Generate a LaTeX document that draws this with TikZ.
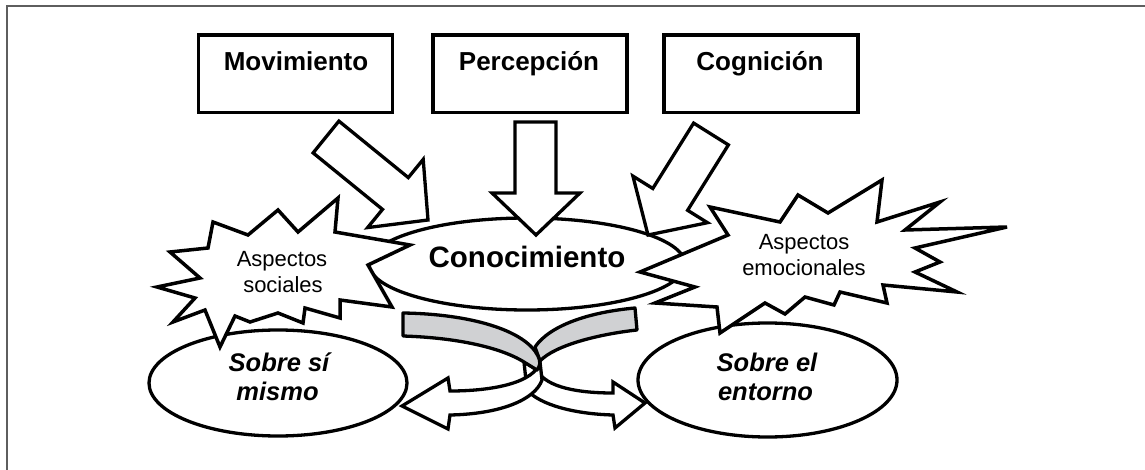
\documentclass[tikz,border=0pt]{standalone}
\usepackage{fontspec}
\setmainfont{Liberation Sans}
\usetikzlibrary{shapes.geometric}
\definecolor{ribgray}{HTML}{D0D1D3}
\definecolor{framegray}{HTML}{5E5E5E}
\begin{document}
\begin{tikzpicture}[x=1pt,y=-1pt,
  boxst/.style={draw=black, line width=3.6pt, fill=white, inner sep=0pt, minimum width=194, minimum height=77.5},
  boxtxt/.style={font=\fontsize{26}{30}\selectfont\bfseries, inner sep=0pt, anchor=base},
  ellst/.style={ellipse, draw=black, line width=3.3pt, fill=white, inner sep=0pt},
  blockarrow/.style={draw=black, line width=3.3pt, fill=white, line join=miter},
  burst/.style={draw=black, line width=3.5pt, fill=white, line join=miter, miter limit=6},
  ribbonw/.style={draw=black, line width=3.3pt, fill=white, line join=miter},
  ribbong/.style={draw=black, line width=3.3pt, fill=ribgray, line join=round},
  bursttxt/.style={font=\fontsize{22}{26}\selectfont, inner sep=0pt, anchor=base},
  sobretxt/.style={font=\fontsize{25.5}{29}\selectfont\bfseries\itshape, inner sep=0pt, anchor=base}
]
\useasboundingbox (0,0) rectangle (1145,470);
\fill[white] (0,0) rectangle (1145,470);
% frame
\draw[framegray, line width=2pt] (7,470) -- (7,6) -- (1145,6);

% top boxes
\node[boxst] (movbox) at (295.5,73.75) {};
\node[boxst] (perbox) at (530,73.75) {};
\node[boxst] (cogbox) at (761,73.75) {};
\node[boxtxt] (movtxt) at (296,71) {Movimiento};
\node[boxtxt] (pertxt) at (529,71) {Percepción};
\node[boxtxt] (cogtxt) at (760,71) {Cognición};

% bottom ellipses
\node[ellst, minimum width=258, minimum height=106] (self) at (278,383) {};
\node[ellst, minimum width=259, minimum height=114] (env) at (767.5,380) {};

% central ellipse
\node[ellst, minimum width=316, minimum height=92] (con) at (527,264) {};

% ribbons (twisted arrows)
\draw[ribbonw] (537,370) .. controls (546,388) and (580,393) .. (613,393)
  -- (613,382) -- (645,403) -- (615,428) -- (613,415)
  .. controls (575,414) and (540,405) .. (527,390) -- (524,362) -- cycle;
\draw[ribbonw] (540,362) .. controls (535,382) and (495,391) .. (450,391)
  -- (448,378) -- (402,406) -- (448,429) -- (450,415)
  .. controls (500,414) and (535,400) .. (542,380) -- cycle;
\draw[ribbong] (635,308) .. controls (590,312) and (550,325) .. (535,347)
  -- (540,361) .. controls (555,345) and (600,334) .. (637,330) -- cycle;
\draw[ribbong] (403,313) .. controls (470,314) and (525,330) .. (538,356)
  .. controls (541,362) and (540,366) .. (537,370)
  -- (524,362) .. controls (505,350) and (465,338) .. (403,336) -- cycle;

% left starburst
\draw[burst] (157,287) -- (200,278) -- (170,252) -- (208,248) -- (213,222)
  -- (248,235) -- (278,210) -- (298,232) -- (338,198) -- (335,232)
  -- (410,245) -- (368,265) -- (392,307) -- (340,300) -- (340,318)
  -- (305,308) -- (303,323) -- (278,313) -- (250,322) -- (235,316)
  -- (220,347) -- (205,310) -- (173,322) -- (195,298) -- cycle;

% right starburst
\draw[burst] (710,207) -- (728,235) -- (640,272) -- (695,287) -- (655,303)
  -- (717,307) -- (720,333) -- (765,303) -- (785,314) -- (805,297)
  -- (834,305) -- (840,292) -- (887,303) -- (883,285) -- (957,292)
  -- (915,272) -- (940,262) -- (915,248) -- (1007,227) -- (905,230)
  -- (940,202) -- (877,222) -- (882,180) -- (828,213) -- (798,195)
  -- (780,222) -- cycle;

% block arrows
\draw[blockarrow] (313.1,152.9) -- (382.5,209.4) -- (367.6,227.6) -- (428,220)
  -- (423.2,159.4) -- (408.3,177.6) -- (338.9,121.1) -- cycle;
\draw[blockarrow] (515,122) -- (556,122) -- (556,193) -- (580,193) -- (536,235)
  -- (492,193) -- (515,193) -- cycle;
\draw[blockarrow] (728.4,144.9) -- (687.6,210.3) -- (707.5,222.7) -- (648,235)
  -- (632.9,176.1) -- (652.8,188.5) -- (693.6,123.1) -- cycle;

% texts
\node[font=\fontsize{29.5}{34}\selectfont\bfseries, inner sep=0pt, anchor=base] (contxt) at (527,267) {Conocimiento};
\node[bursttxt] (soc1) at (282,266) {Aspectos};
\node[bursttxt] (soc2) at (283,292) {sociales};
\node[bursttxt] (emo1) at (804,250) {Aspectos};
\node[bursttxt] (emo2) at (804,276) {emocionales};
\node[sobretxt] (self1) at (279,371) {Sobre sí};
\node[sobretxt] (self2) at (277.5,400) {mismo};
\node[sobretxt] (env1) at (767,371) {Sobre el};
\node[sobretxt] (env2) at (765.5,400) {entorno};
\end{tikzpicture}
\end{document}
